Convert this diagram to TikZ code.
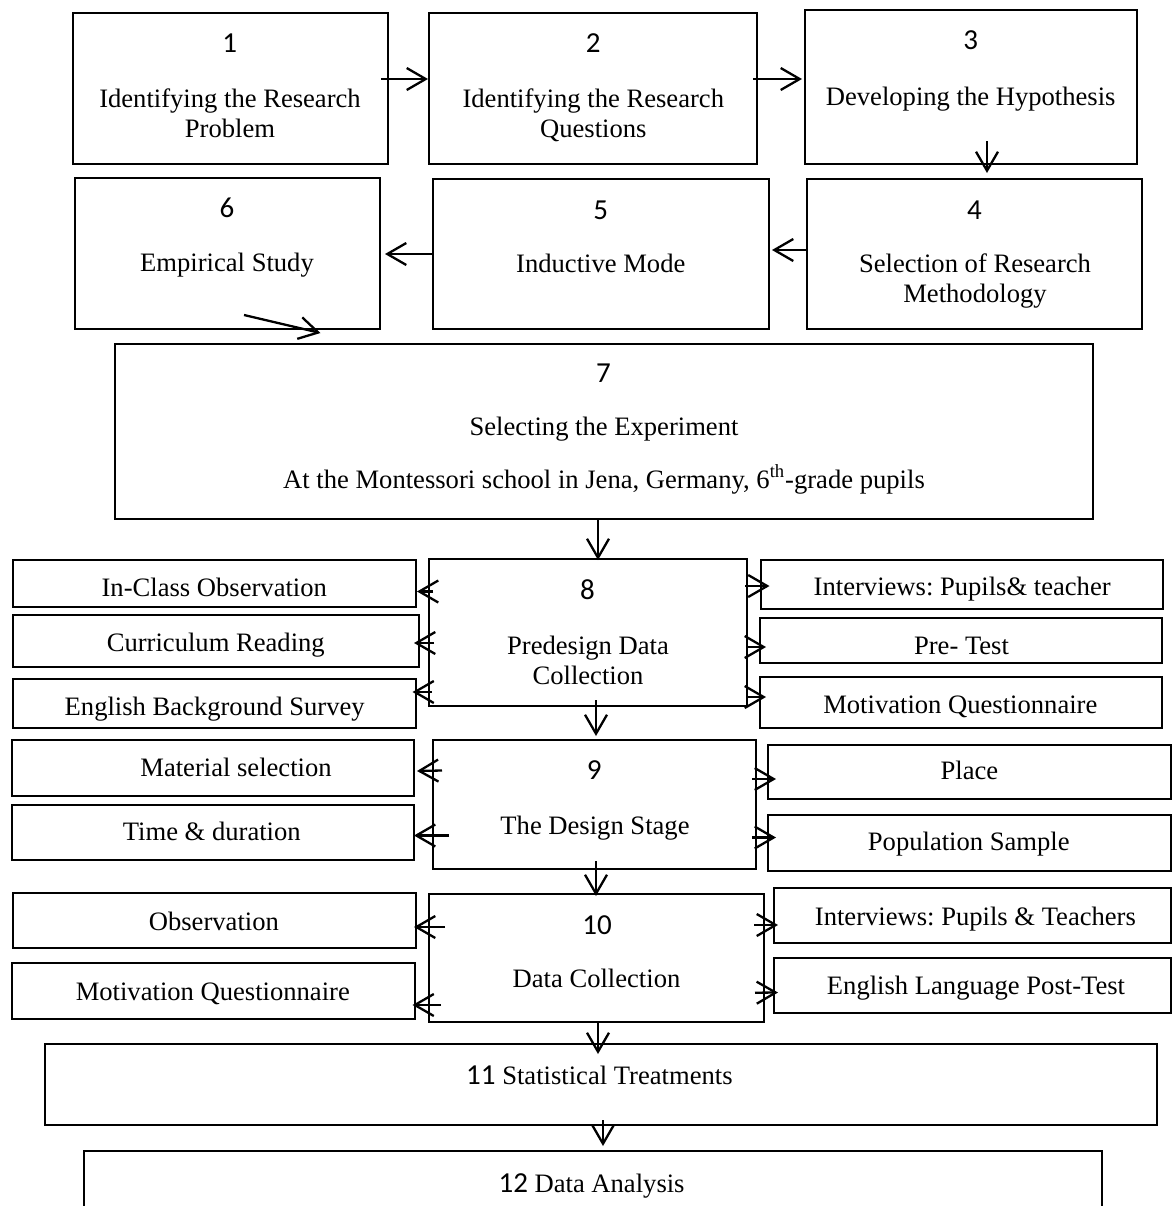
\documentclass[tikz,border=0pt]{standalone}
\usepackage{fontspec}
\setmainfont{Liberation Serif}
\newfontfamily\numfont{Carlito}
\usetikzlibrary{arrows.meta,fit}
\frenchspacing

\begin{document}
\begin{tikzpicture}[x=0.5pt, y=-0.5pt,
  box/.style={draw, line width=1pt, inner sep=0pt},
  txt/.style={anchor=base, inner sep=0pt, align=center, font=\fontsize{13.3}{15}\selectfont},
  num/.style={anchor=base, inner sep=0pt, font=\numfont\fontsize{14.5}{17}\selectfont},
  arr/.style={-{Straight Barb[length=9.5pt,width=11pt]}, line width=1.15pt}]
  \clip (0,0) rectangle (1172,1206);

  % Steps 1 to 7
  \node[box, fit={(73,13) (388,164)}] (b1) {};
  \node[box, fit={(429,13) (757,164)}] (b2) {};
  \node[box, fit={(805,10) (1137,164)}] (b3) {};
  \node[box, fit={(807,179) (1142,329)}] (b4) {};
  \node[box, fit={(433,179) (769,329)}] (b5) {};
  \node[box, fit={(75,178) (380,329)}] (b6) {};
  \node[box, fit={(115,344) (1093,519)}] (b7) {};

  % (base of a two-line text = its last line)
  \node[num] (n1) at (229.6,52.2) {1};
  \node[txt] (t1) at (230,137.3) {Identifying the Research\\Problem};
  \node[num] (n2) at (593.2,52.8) {2};
  \node[txt] (t2) at (593.3,137.3) {Identifying the Research\\Questions};
  \node[num] (n3) at (970.7,49.5) {3};
  \node[txt] (t3) at (970.7,105) {Developing the Hypothesis};
  \node[num] (n4) at (974.5,219.5) {4};
  \node[txt] (t4) at (975,302.3) {Selection of Research\\Methodology};
  \node[num] (n5) at (600.8,219.5) {5};
  \node[txt] (t5) at (600.8,272) {Inductive Mode};
  \node[num] (n6) at (227,217.5) {6};
  \node[txt] (t6) at (227,271) {Empirical Study};
  \node[num] (n7) at (603.4,382.2) {7};
  \node[txt] (t7) at (604,488.3) {Selecting the Experiment\\[11.3pt]
    At the Montessori school in Jena, Germany, 6\textsuperscript{th}-grade pupils};

  \draw[arr] ([shift={(-8,-9.5)}]b1.east) -- ([shift={(0,-9.5)}]b2.west);
  \draw[arr] ([shift={(-5,-9.5)}]b2.east) -- ([shift={(-2,-8)}]b3.west);
  \draw[arr] ([shift={(16,-24)}]b3.south) -- ([shift={(12.5,-5)}]b4.north);
  \draw[arr] ([shift={(0,-4)}]b4.west) -- ([shift={(2,-4)}]b5.east);
  \draw[arr] (b5.west) -- ([shift={(4,0.5)}]b6.east);
  \draw[arr] ([shift={(16.5,-15)}]b6.south) -- ([shift={(206.5,-10)}]b7.north west);

  % Step 8: predesign
  \node[box, fit={(429,559) (747,706)}] (b8) {};
  \node[num] (n8) at (587.5,599.5) {8};
  \node[txt] (t8) at (588,684) {Predesign Data\\Collection};
  \node[box, fit={(13,560) (416,607)}] (s1) {};
  \node[box, fit={(13,615) (419,667)}] (s2) {};
  \node[box, fit={(13,679) (416,728)}] (s3) {};
  \node[box, fit={(761,560) (1163,609)}] (r1) {};
  \node[box, fit={(760,618) (1162,663)}] (r2) {};
  \node[box, fit={(760,677) (1162,728)}] (r3) {};
  \node[txt] (ts1) at (214.3,596.7) {In-Class Observation};
  \node[txt] (ts2) at (215.8,651.7) {Curriculum Reading};
  \node[txt] (ts3) at (214.7,715) {English Background Survey};
  \node[txt] (tr1) at (962.2,595.7) {Interviews: Pupils\& teacher};
  \node[txt] (tr2) at (961.5,654) {Pre- Test};
  \node[txt] (tr3) at (960.3,713) {Motivation Questionnaire};

  \draw[arr] ([shift={(-6,0)}]b7.south) -- ([shift={(10,2)}]b8.north);
  \draw[arr] ([shift={(5,-41)}]b8.west) -- ([shift={(0,8)}]s1.east);
  \draw[arr] ([shift={(6,10.5)}]b8.west) -- ([shift={(-6,2)}]s2.east);
  \draw[arr] ([shift={(3.5,59.5)}]b8.west) -- ([shift={(-4.5,-11.5)}]s3.east);
  \draw[arr] ([shift={(-3,-46.5)}]b8.east) -- ([shift={(9.5,1.5)}]r1.west);
  \draw[arr] ([shift={(-1,14.5)}]b8.east) -- ([shift={(7,6.5)}]r2.west);
  \draw[arr] ([shift={(-1,64.5)}]b8.east) -- ([shift={(7,-5.5)}]r3.west);

  % Step 9: design
  \node[box, fit={(433,740) (756,869)}] (b9) {};
  \node[num] (n9) at (594.3,779.5) {9};
  \node[txt] (t9) at (595,834) {The Design Stage};
  \node[box, fit={(12,740) (414,796)}] (s4) {};
  \node[box, fit={(12,805) (414,860)}] (s5) {};
  \node[box, fit={(768,745) (1171,799)}] (r4) {};
  \node[box, fit={(768,815) (1171,871)}] (r5) {};
  \node[txt] (ts4) at (236,776.7) {Material selection};
  \node[txt] (ts5) at (211.8,840.7) {Time \& duration};
  \node[txt] (tr4) at (969.4,779) {Place};
  \node[txt] (tr5) at (968.8,850.7) {Population Sample};

  \draw[arr] ([shift={(8,-7)}]b8.south) -- ([shift={(1.5,-3)}]b9.north);
  \draw[arr] ([shift={(10,-34)}]b9.west) -- ([shift={(2,3)}]s4.east);
  \draw[arr] ([shift={(17,31)}]b9.west) -- ([shift={(-1,3)}]s5.east);
  \draw[arr] ([shift={(-5,-25.5)}]b9.east) -- ([shift={(9,7)}]r4.west);
  \draw[arr] ([shift={(-5,33)}]b9.east) -- ([shift={(9,-5.5)}]r5.west);

  % Step 10: data collection
  \node[box, fit={(429,894) (764,1022)}] (b10) {};
  \node[num] (n10) at (597,934.5) {10};
  \node[txt] (t10) at (596.5,987.3) {Data Collection};
  \node[box, fit={(13,893) (416,948)}] (s6) {};
  \node[box, fit={(12,963) (415,1019)}] (s7) {};
  \node[box, fit={(774,888) (1171,943)}] (r6) {};
  \node[box, fit={(774,958) (1171,1013)}] (r7) {};
  \node[txt] (ts6) at (213.9,930.7) {Observation};
  \node[txt] (ts7) at (212.8,1000.7) {Motivation Questionnaire};
  \node[txt] (tr6) at (975.4,925) {Interviews: Pupils \& Teachers};
  \node[txt] (tr7) at (976,994.7) {English Language Post-Test};

  \draw[arr] ([shift={(1.5,-9)}]b9.south) -- ([shift={(-0.5,3)}]b10.north);
  \draw[arr] ([shift={(17,-31)}]b10.west) -- ([shift={(-3,6.5)}]s6.east);
  \draw[arr] ([shift={(13,47)}]b10.west) -- ([shift={(-3.5,14)}]s7.east);
  \draw[arr] ([shift={(-11,-33)}]b10.east) -- ([shift={(5,9.5)}]r6.west);
  \draw[arr] ([shift={(-10,34.7)}]b10.east) -- ([shift={(5,7)}]r7.west);

  % Steps 11 and 12
  \node[box, fit={(45,1044) (1157,1125)}] (b11) {};
  \node[txt] (t11) at (599.4,1084) {{\numfont\fontsize{14.5}{17}\selectfont 11} Statistical Treatments};
  \node[box, fit={(84,1151) (1102,1240)}] (b12) {};
  \node[txt] (t12) at (591.6,1192.3) {{\numfont\fontsize{14.5}{17}\selectfont 12} Data Analysis};

  \draw[arr] ([shift={(1.5,0)}]b10.south) -- ([shift={(-3,11)}]b11.north);
  \draw[arr] ([shift={(2,-6)}]b11.south) -- ([shift={(10,-4)}]b12.north);
\end{tikzpicture}
\end{document}
